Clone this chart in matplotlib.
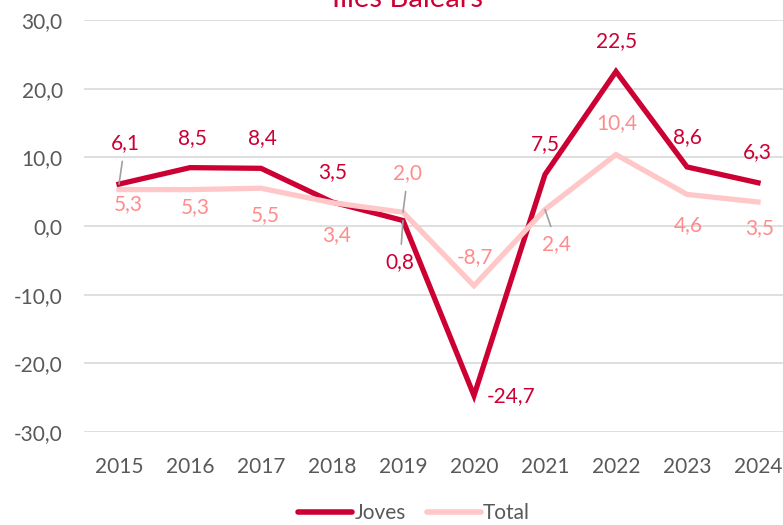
import matplotlib
matplotlib.use('Agg')
import matplotlib.pyplot as plt

years = ['2015', '2016', '2017', '2018', '2019', '2020', '2021', '2022', '2023', '2024']
joves = [6.1, 8.5, 8.4, 3.5, 0.8, -24.7, 7.5, 22.5, 8.6, 6.3]
total = [5.3, 5.3, 5.5, 3.4, 2.0, -8.7, 2.4, 10.4, 4.6, 3.5]
yticks = [-30, -20, -10, 0, 10, 20, 30]

# label offsets in pixels (dx, dy), plus whether a leader line is drawn
joves_off = [(6, 41, True), (2, 30, False), (1, 30, False), (1, 30, False), (-3, -42, True),
             (37, 0, False), (0, 30, False), (1, 30, False), (0, 30, False), (-1, 31, False)]
total_off = [(9, -14, False), (5, -17, False), (4, -27, False), (5, -32, False), (5, 39, True),
             (1, 29, False), (12, -35, True), (1, 31, False), (1, -31, False), (2, -26, False)]

c_joves = '#CC0033'
c_total = '#FFC7C7'
c_total_lbl = '#FF8C8C'
c_text = '#595959'

plt.rcParams['font.family'] = ['Lato', 'DejaVu Sans']

fig = plt.figure(figsize=(7.83, 5.25), dpi=100)
W, H = 783, 525
ax = fig.add_axes([83.5 / W, 1 - 432 / H, 710 / W, 412 / H])

x = list(range(len(years)))
ax.plot(x, joves, color=c_joves, lw=3.8, solid_joinstyle='miter', zorder=3, label='Joves')
ax.plot(x, total, color=c_total, lw=3.8, solid_joinstyle='miter', zorder=4, label='Total')

ax.set_xlim(-0.5, len(years) - 0.5)
ax.set_ylim(-30, 30)
ax.set_yticks(yticks)
ax.set_yticklabels([f'{v:.1f}'.replace('.', ',') for v in yticks])
ax.set_xticks(x)
ax.set_xticklabels(years)
ax.tick_params(axis='both', length=0, labelsize=15, labelcolor=c_text)
ax.tick_params(axis='y', pad=15)
ax.tick_params(axis='x', pad=18)
ax.grid(axis='y', color='#D9D9D9', lw=1.2)
ax.set_axisbelow(True)
for s in ax.spines.values():
    s.set_visible(False)


def add_labels(vals, offs, color):
    for i, v in enumerate(vals):
        dx, dy, lead = offs[i]
        txt = f'{v:.1f}'.replace('.', ',')
        kw = {}
        if lead:
            kw['arrowprops'] = dict(arrowstyle='-', color='#A0A0A0', lw=1.2,
                                    shrinkA=4, shrinkB=0)
        ax.annotate(txt, (i, v), xytext=(dx, dy), textcoords='offset pixels',
                    ha='center', va='center', fontsize=15, color=color,
                    zorder=6, annotation_clip=False, **kw)


add_labels(joves, joves_off, c_joves)
add_labels(total, total_off, c_total_lbl)

# title sits partly above the top edge, as in the source image
fig.text(407 / W, 1 - 7 / H, 'Illes Balears', ha='center', va='baseline',
         fontsize=21, color=c_joves)

leg = fig.legend(loc='center', bbox_to_anchor=(414 / W, 1 - 513 / H), ncol=2,
                 frameon=False, fontsize=15, handlelength=2.6, handletextpad=0.1,
                 columnspacing=1.0, borderpad=0.2)
for t in leg.get_texts():
    t.set_color(c_text)
for h in leg.get_lines():
    h.set_linewidth(4)
    h.set_solid_capstyle('round')

fig.savefig('out.png', dpi=100)
